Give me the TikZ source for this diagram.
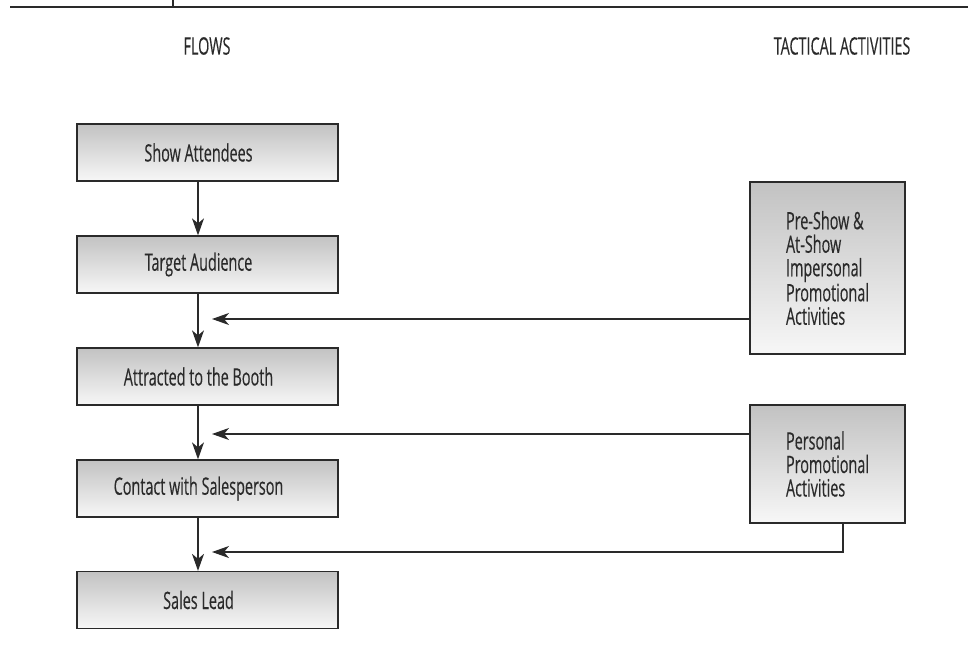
\documentclass[tikz,border=0pt]{standalone}
\usepackage{fontspec}
\setmainfont[FakeStretch=0.6,FakeBold=0.3]{Open Sans}
\usetikzlibrary{arrows.meta}
\definecolor{ink}{HTML}{2A2A2A}
\definecolor{gtop}{HTML}{C2C2C2}
\definecolor{gbot}{HTML}{F7F7F7}
\begin{document}
\begin{tikzpicture}[x=1pt,y=-1pt,
  txt/.style={font=\fontsize{24}{23.5}\selectfont, text=ink},
  flowbox/.style={txt, draw=ink, line width=1.3pt, top color=gtop, bottom color=gbot,
    minimum width=261pt, minimum height=57pt, inner sep=0pt},
  tacbox/.style={txt, draw=ink, line width=1.3pt, top color=gtop, bottom color=gbot,
    minimum width=155pt, align=left, inner sep=0pt},
  arr/.style={draw=ink, line width=1.2pt, -{Stealth[length=17pt,width=12pt,inset=5pt]}}]
\useasboundingbox (0,0) rectangle (968,658);
% header rule
\draw[ink, line width=2.2pt] (10,7) -- (968,7);
\draw[ink, line width=2pt] (173,0) -- (173,7);
% column titles
\node[txt] (flows) at (207,46) {FLOWS};
\node[txt] (tact) at (842,46) {TACTICAL ACTIVITIES};
% flow boxes
\node[flowbox] (b1) at (207.5,152.5) {Show Attendees\hspace*{18pt}};
\node[flowbox] (b2) at (207.5,264.5) {Target Audience\hspace*{18pt}};
\node[flowbox] (b3) at (207.5,376.5) {Attracted to the Booth\hspace*{18pt}};
\node[flowbox] (b4) at (207.5,488.5) {Contact with Salesperson\hspace*{18pt}};
\node[flowbox] (b5) at (207.5,600) {Sales Lead\hspace*{18pt}};
% tactical boxes
\node[tacbox, minimum height=172pt] (r1) at (827.5,268) {Pre-Show \&\\At-Show\\Impersonal\\Promotional\\Activities};
\node[tacbox, minimum height=118pt] (r2) at (827.5,464) {Personal\\Promotional\\Activities};
% column coordinates
\coordinate (col) at (198,0);
\coordinate (t1) at (212,319);
\coordinate (t2) at (212,434);
\coordinate (t3) at (212,552);
\coordinate (c2) at (843,0);
% vertical flow arrows
\draw[arr] (b1.south -| col) -- (b2.north -| col);
\draw[arr] (b2.south -| col) -- (b3.north -| col);
\draw[arr] (b3.south -| col) -- (b4.north -| col);
\draw[arr] (b4.south -| col) -- (b5.north -| col);
% tactical connectors
\draw[arr] (r1.west |- t1) -- (t1);
\draw[arr] (r2.west |- t2) -- (t2);
\draw[arr] (r2.south -| c2) |- (t3);
\end{tikzpicture}
\end{document}
